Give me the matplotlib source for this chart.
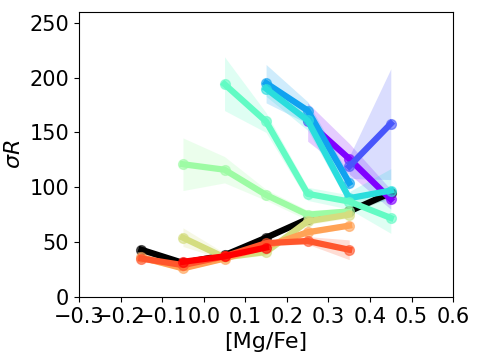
import numpy as np
import matplotlib
matplotlib.use('Agg')
import matplotlib.pyplot as plt

# [Mg/Fe] bins and sigma_R per group
groups = [
    # (x values, mean, lower, upper)
    ([0.25, 0.35, 0.45], [160, 126, 89], [142, 112, 80], [177, 140, 98]),
    ([0.35, 0.45], [119, 158], [108, 107], [128, 208]),
    ([0.15, 0.25, 0.35], [195, 170, 104], [177, 158, 97], [212, 178, 111]),
    ([0.15, 0.25, 0.35, 0.45], [190, 161, 90, 97], [183, 152, 84, 88], [198, 168, 96, 117]),
    ([0.05, 0.15, 0.25, 0.35, 0.45], [194, 160, 94, 87, 72], [170, 150, 88, 80, 58], [219, 168, 100, 93, 88]),
    ([-0.05, 0.05, 0.15, 0.25, 0.35], [121, 116, 93, 75, 78], [97, 104, 88, 70, 74], [145, 128, 98, 79, 81]),
    ([-0.05, 0.05, 0.15, 0.25, 0.35], [54, 36, 41, 69, 75], [46, 34, 38, 66, 72], [63, 40, 45, 72, 78]),
    ([-0.15, -0.05, 0.05, 0.15, 0.25, 0.35], [36, 26, 35, 46, 59, 65], [33, 24, 33, 44, 56, 63], [40, 30, 38, 49, 62, 68]),
    ([-0.15, -0.05, 0.05, 0.15, 0.25, 0.35], [35, 29, 37, 49, 51, 43], [32, 27, 35, 47, 48, 34], [39, 32, 39, 51, 55, 52]),
    ([-0.05, 0.05, 0.15], [32, 37, 45], [29, 34, 42], [35, 40, 48]),
]

black_x = [-0.15, -0.05, 0.05, 0.15, 0.25, 0.35, 0.45]
black_y = [43, 31, 38, 54, 71, 78, 95]
black_lo = [40, 29, 36, 52, 69, 76, 91]
black_hi = [46, 33, 40, 56, 73, 80, 99]

colors = plt.cm.rainbow(np.linspace(0, 1, len(groups)))

fig = plt.figure(figsize=(4.79, 3.59), dpi=100)
ax = fig.add_axes([0.165, 0.173, 0.781, 0.794])

ax.fill_between(black_x, black_lo, black_hi, color='k', alpha=0.2, lw=0)
ax.plot(black_x, black_y, '-', color='k', lw=4.5)
ax.plot(black_x, black_y, 'o', color='k', ms=7, alpha=0.6)

for (xs, ys, lo, hi), c in zip(groups, colors):
    ax.fill_between(xs, lo, hi, color=c, alpha=0.2, lw=0)
    ax.plot(xs, ys, '-', color=c, lw=4.5)
    ax.plot(xs, ys, 'o', color=c, ms=7, alpha=0.6)

ax.set_xlim(-0.3, 0.6)
ax.set_ylim(0, 260)
ax.set_xticks(np.round(np.arange(-0.3, 0.61, 0.1), 1))
ax.set_yticks([0, 50, 100, 150, 200, 250])
ax.tick_params(labelsize=15)
ax.set_xlabel('[Mg/Fe]', fontsize=16)
ax.set_ylabel(r'$\sigma R$', fontsize=16)

fig.savefig('out.png', dpi=100)
